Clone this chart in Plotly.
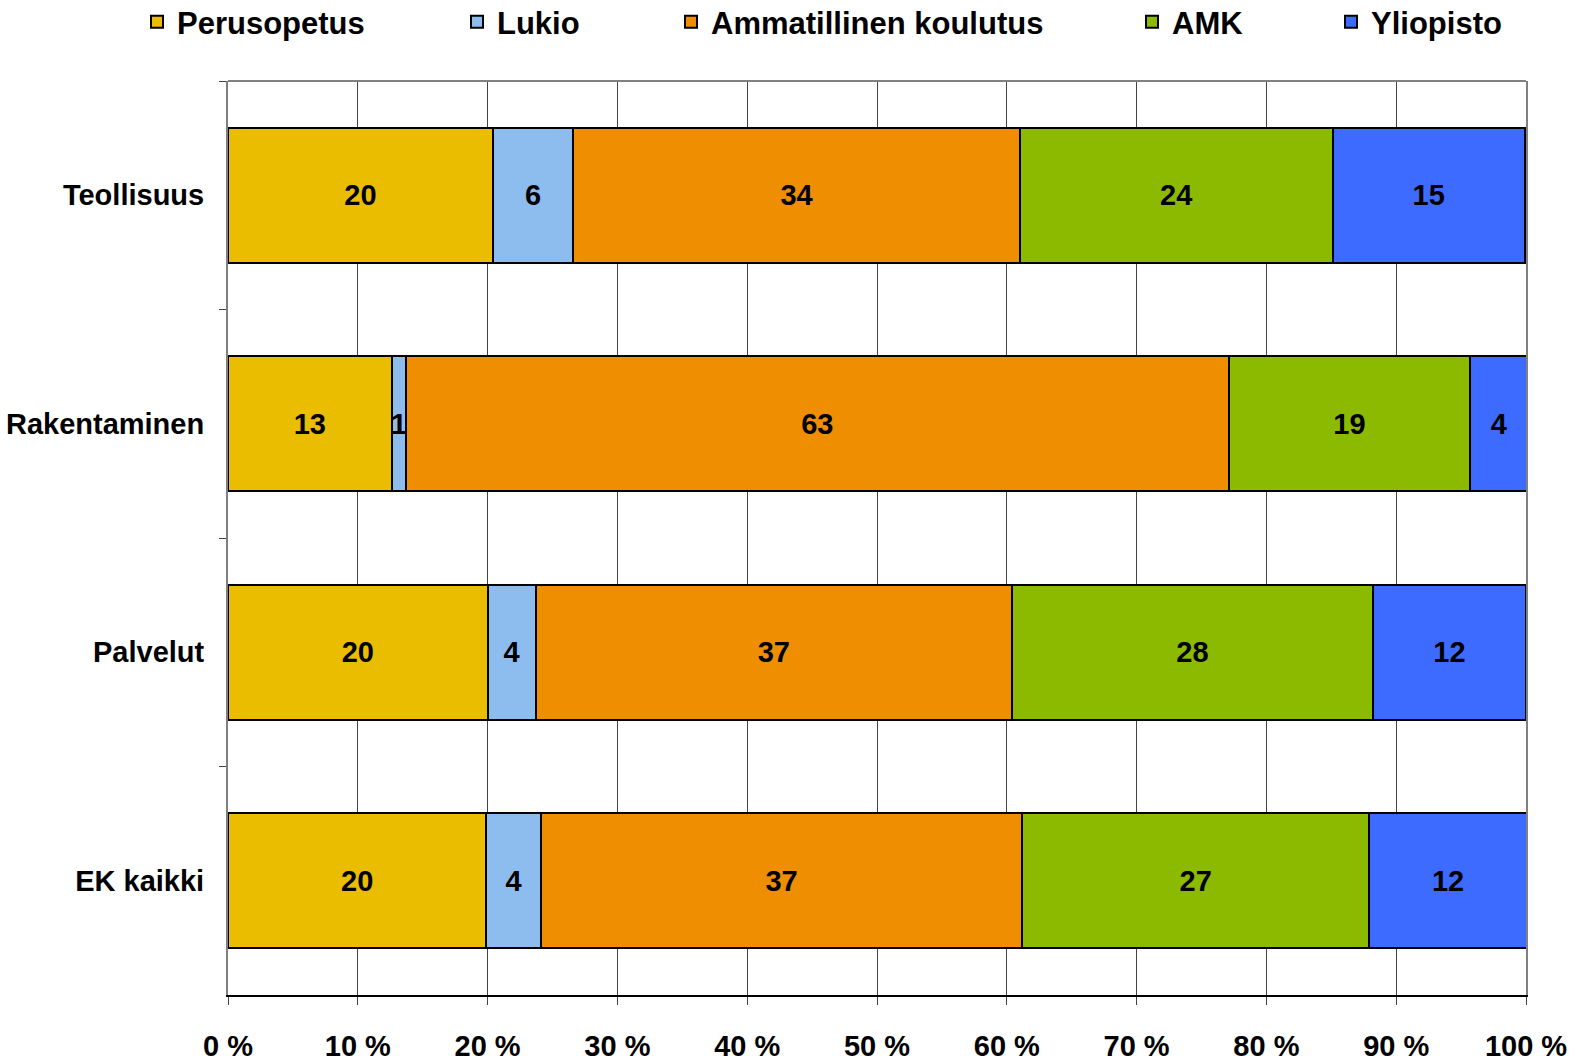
import plotly.graph_objects as go

categories = ["Teollisuus", "Rakentaminen", "Palvelut", "EK kaikki"]
series_names = ["Perusopetus", "Lukio", "Ammatillinen koulutus", "AMK", "Yliopisto"]
perusopetus = [20.4, 12.6, 20.0, 19.9]
lukio = [6.2, 1.1, 3.7, 4.2]
ammatillinen = [34.4, 63.4, 36.7, 37.1]
amk = [24.1, 18.6, 27.8, 26.7]
yliopisto = [14.8, 4.4, 11.8, 12.2]
x_ticks = [0, 10, 20, 30, 40, 50, 60, 70, 80, 90, 100]
x_tick_labels = ["0 %", "10 %", "20 %", "30 %", "40 %", "50 %", "60 %", "70 %", "80 %", "90 %", "100 %"]

series_values = [perusopetus, lukio, ammatillinen, amk, yliopisto]
colors = ["#EBBD00", "#8DBDEE", "#EE8E00", "#8CBA00", "#3D6BFF"]
FONT = "Liberation Sans, Arial, sans-serif"
FS = 29
FS_LEG = 31

L = 228        # plot left in window px
W_PLOT = 1298
H_PLOT = 914
TOP = 81       # plot top in window px
W = 1581
H = 1064

# legend left edges in window px
legend_px = [137, 457, 671, 1132, 1331]

fig = go.Figure()
for i, (name, vals, col) in enumerate(zip(series_names, series_values, colors)):
    lg = "legend" if i == 0 else f"legend{i+1}"
    fig.add_trace(go.Bar(
        y=categories, x=vals, name=name, orientation="h",
        marker=dict(color=col, line=dict(color="black", width=2)),
        texttemplate="%{x:.0f}", textposition="inside", insidetextanchor="middle",
        textangle=0, textfont=dict(family=FONT, size=FS, color="black", weight="bold"),
        legend=lg, hoverinfo="skip",
    ))

layout_legends = {}
for i, px in enumerate(legend_px):
    key = "legend" if i == 0 else f"legend{i+1}"
    layout_legends[key] = dict(
        x=(px - L) / W_PLOT, xanchor="left", y=1 + (TOP - 22) / H_PLOT, yanchor="middle",
        orientation="h", font=dict(family=FONT, size=FS_LEG, color="black", weight="bold"),
        bgcolor="rgba(0,0,0,0)", borderwidth=0,
    )

fig.update_layout(
    width=W, height=H,
    margin=dict(l=L, r=W - L - W_PLOT, t=TOP, b=H - TOP - H_PLOT, autoexpand=False),
    barmode="stack", bargap=0.41,
    plot_bgcolor="white", paper_bgcolor="white",
    uniformtext=dict(minsize=FS, mode="show"),
    showlegend=True,
    **layout_legends,
)
fig.update_xaxes(
    range=[0, 100], tickvals=x_ticks, ticktext=x_tick_labels,
    tickfont=dict(family=FONT, size=FS, color="black", weight="bold"),
    showgrid=True, gridcolor="#444444", gridwidth=1,
    showline=True, linecolor="black", linewidth=2,
    ticks="outside", ticklen=8, tickcolor="#444444", tickwidth=1,
    ticklabelstandoff=16, zeroline=False,
)
fig.update_yaxes(
    autorange="reversed", type="category", tickson="boundaries",
    tickfont=dict(family=FONT, size=FS, color="black", weight="bold"),
    showgrid=False, showline=True, linecolor="#808080", linewidth=2, mirror=True,
    ticks="outside", ticklen=7, tickcolor="#444444", tickwidth=1,
    ticklabelstandoff=16,
)
fig.add_shape(type="line", xref="x domain", yref="y domain", x0=0, x1=1, y0=1, y1=1,
              line=dict(color="#808080", width=2))
fig.write_html("out.html",
               config={"displayModeBar": False},
               post_script="document.body.style.margin='0';document.body.style.overflow='hidden';")
